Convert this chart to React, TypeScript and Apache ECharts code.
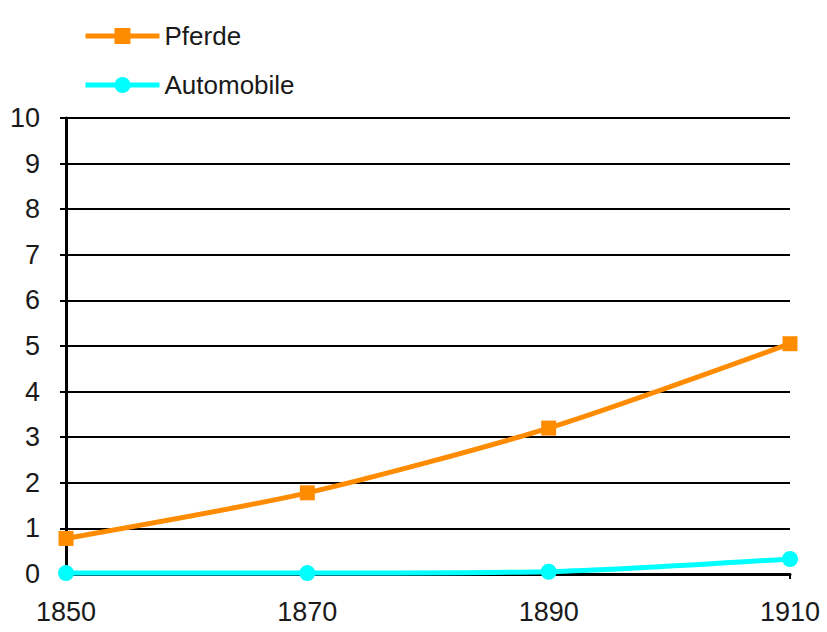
import React, { useEffect, useRef } from "react";
import * as echarts from "echarts";

const years = ["1850", "1870", "1890", "1910"];
const pferde = [0.78, 1.78, 3.2, 5.05];
const automobile = [0.02, 0.02, 0.05, 0.33];
const yTicks = [0, 10, 1];

export default function App() {
  const ref = useRef<HTMLDivElement>(null);
  useEffect(() => {
    const chart = echarts.init(ref.current!, null, { renderer: "svg" });
    const font = "'Liberation Sans', Arial, sans-serif";
    chart.setOption({
      animation: false,
      backgroundColor: "#ffffff",
      textStyle: { fontFamily: font },
      legend: {
        orient: "vertical",
        left: 78,
        top: 18,
        itemWidth: 74,
        itemHeight: 20,
        itemGap: 23,
        lineStyle: { width: 5 },
        textStyle: { fontSize: 26, color: "#1a1a1a", fontFamily: font },
        data: ["Pferde", "Automobile"],
      },
      grid: { left: 66, right: 37, top: 118, bottom: 58 },
      xAxis: {
        type: "category",
        data: years,
        boundaryGap: false,
        axisLine: { lineStyle: { color: "#000", width: 3 } },
        axisTick: { show: true, length: 5, lineStyle: { color: "#000", width: 2 } },
        axisLabel: { fontSize: 27, color: "#1a1a1a", margin: 24, fontFamily: font },
        splitLine: { show: false },
      },
      yAxis: {
        type: "value",
        min: yTicks[0],
        max: yTicks[1],
        interval: yTicks[2],
        axisLine: { show: true, lineStyle: { color: "#000", width: 3 } },
        axisTick: { show: true, length: 6, lineStyle: { color: "#000", width: 2 } },
        axisLabel: { fontSize: 27, color: "#1a1a1a", margin: 26, fontFamily: font },
        splitLine: { show: true, lineStyle: { color: "#000", width: 2 } },
      },
      series: [
        {
          name: "Pferde",
          type: "line",
          data: pferde,
          smooth: 0.25,
          symbol: "rect",
          symbolSize: 15,
          lineStyle: { color: "#ff8c00", width: 5 },
          itemStyle: { color: "#ff8c00" },
          z: 3,
        },
        {
          name: "Automobile",
          type: "line",
          data: automobile,
          smooth: 0.25,
          symbol: "circle",
          symbolSize: 16,
          lineStyle: { color: "#00ffff", width: 5 },
          itemStyle: { color: "#00ffff" },
          z: 4,
        },
      ],
    });
    return () => chart.dispose();
  }, []);
  return <div ref={ref} style={{ width: 827, height: 632, position: "absolute", left: 0, top: 0 }} />;
}
